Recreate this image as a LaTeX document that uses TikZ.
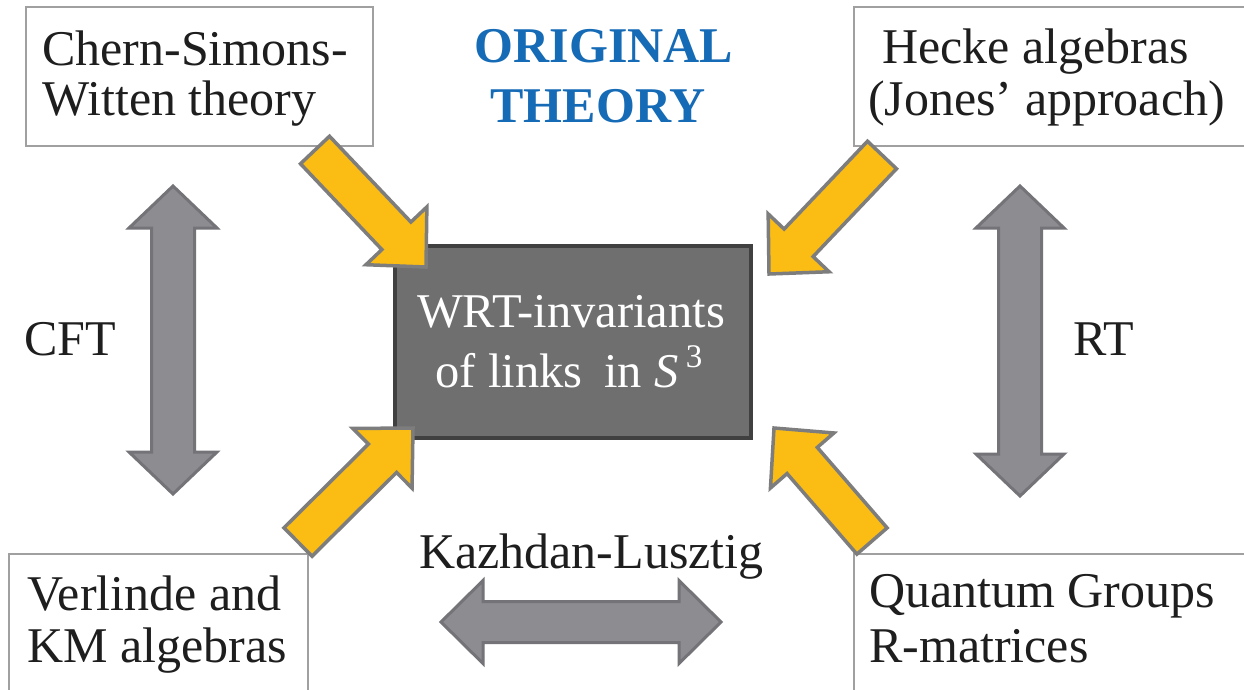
\documentclass[tikz,border=0pt]{standalone}
\usepackage{fontspec}
\setmainfont{Liberation Serif}
\usetikzlibrary{calc}
\definecolor{yel}{RGB}{251,189,20}
\definecolor{yelborder}{RGB}{125,125,125}
\definecolor{garrow}{RGB}{140,140,145}
\definecolor{garrowborder}{RGB}{115,115,120}
\definecolor{boxborder}{RGB}{160,160,160}
\definecolor{centerfill}{RGB}{111,111,111}
\definecolor{centerborder}{RGB}{64,64,64}
\definecolor{titleblue}{RGB}{21,107,182}
\definecolor{ink}{RGB}{30,30,30}
\newcommand{\blockarrow}[6]{%
  \coordinate (hbase) at ($(#3)!#6!(#2)$);
  \draw[#1] ($(#2)!#4!90:(#3)$) -- ($(hbase)!#4!90:(#3)$) -- ($(hbase)!#5!90:(#3)$) -- (#3)
    -- ($(hbase)!#5!-90:(#3)$) -- ($(hbase)!#4!-90:(#3)$) -- ($(#2)!#4!-90:(#3)$) -- cycle;}
\newcommand{\dblarrow}[6]{%
  \coordinate (hA) at ($(#2)!#6!(#3)$);
  \coordinate (hB) at ($(#3)!#6!(#2)$);
  \draw[#1] (#2) -- ($(hA)!#5!90:(#3)$) -- ($(hA)!#4!90:(#3)$) -- ($(hB)!#4!90:(#3)$) -- ($(hB)!#5!90:(#3)$) -- (#3)
    -- ($(hB)!#5!-90:(#3)$) -- ($(hB)!#4!-90:(#3)$) -- ($(hA)!#4!-90:(#3)$) -- ($(hA)!#5!-90:(#3)$) -- cycle;}
\begin{document}
\begin{tikzpicture}[x=1pt,y=-1pt,
  txt/.style={font=\fontsize{50}{50}\selectfont, text=ink, inner sep=0pt, anchor=base west},
  ctxt/.style={font=\fontsize{48.5}{48.5}\selectfont, text=white, inner sep=0pt, anchor=base},
  ttl/.style={font=\fontsize{50}{50}\selectfont\bfseries, text=titleblue, inner sep=0pt, anchor=base},
  outerbox/.style={draw=boxborder, line width=2pt, fill=white, inner sep=0pt},
  centerbox/.style={draw=centerborder, line width=3.5pt, fill=centerfill, inner sep=0pt},
  yarrow/.style={fill=yel, draw=yelborder, line width=3.5pt, line join=miter},
  garrowstyle/.style={fill=garrow, draw=garrowborder, line width=3pt, line join=miter}]
\useasboundingbox (0,0) rectangle (1244,689);
\clip (0,0) rectangle (1244,689);
\fill[white] (0,0) rectangle (1244,689);

% boxes
\node[outerbox, anchor=north west, minimum width=347pt, minimum height=139pt] (cs) at (25,6) {};
\node[outerbox, anchor=north west, minimum width=400pt, minimum height=139pt] (hk) at (853,6) {};
\node[outerbox, anchor=north west, minimum width=299pt, minimum height=150pt] (vl) at (8,553) {};
\node[outerbox, anchor=north west, minimum width=400pt, minimum height=150pt] (qg) at (853,553) {};
\node[centerbox, anchor=north west, minimum width=356pt, minimum height=192pt] (wrt) at (393,244) {};

% texts in boxes
\node[txt] (cs1) at (42,65) {Chern-Simons-};
\node[txt] (cs2) at (42,115) {Witten theory};
\node[txt] (hk1) at (882,63) {Hecke algebras};
\node[txt] (hk2) at (868,115) {(Jones’ approach)};
\node[txt] (vl1) at (27,610) {Verlinde and};
\node[txt] (vl2) at (27,662) {KM algebras};
\node[txt] (qg1) at (869,607) {Quantum Groups};
\node[txt] (qg2) at (869,662) {R-matrices};
\node[ctxt] (wrt1) at (571,327) {WRT-invariants};
\node[ctxt] (wrt2) at (569,387) {of links\hspace{0.2em} in \textit{S}\hspace{0.15em}\raisebox{0.4em}{\fontsize{33}{33}\selectfont 3}};

% title and labels
\node[ttl] (t1) at (604,62) {ORIGINAL};
\node[ttl] (t2) at (598,122) {THEORY};
\node[txt] (cft) at (24,355) {CFT};
\node[txt] (rt) at (1073,355) {RT};
\node[txt] (kl) at (419,568) {Kazhdan-Lusztig};

% gray double arrows
\coordinate (cftA) at (173,186);
\coordinate (cftB) at (173,494);
\coordinate (rtA) at (1020,186);
\coordinate (rtB) at (1020,496);
\coordinate (klA) at (441,622);
\coordinate (klB) at (721,622);
\dblarrow{garrowstyle}{cftA}{cftB}{21.5pt}{44pt}{42pt}
\dblarrow{garrowstyle}{rtA}{rtB}{21.5pt}{44pt}{42pt}
\dblarrow{garrowstyle}{klA}{klB}{20.5pt}{41.5pt}{42pt}

% yellow arrows
\coordinate (a1t) at (315,150);
\coordinate (a1p) at (426,267);
\coordinate (a2t) at (882,155);
\coordinate (a2p) at (769,274);
\coordinate (a3t) at (298,542);
\coordinate (a3p) at (413,428);
\coordinate (a4t) at (872,541);
\coordinate (a4p) at (774,428);
\blockarrow{yarrow}{a1t}{a1p}{20pt}{42pt}{43pt}
\blockarrow{yarrow}{a2t}{a2p}{20pt}{42pt}{43pt}
\blockarrow{yarrow}{a3t}{a3p}{20pt}{42pt}{43pt}
\blockarrow{yarrow}{a4t}{a4p}{20pt}{42pt}{43pt}
\end{tikzpicture}
\end{document}
